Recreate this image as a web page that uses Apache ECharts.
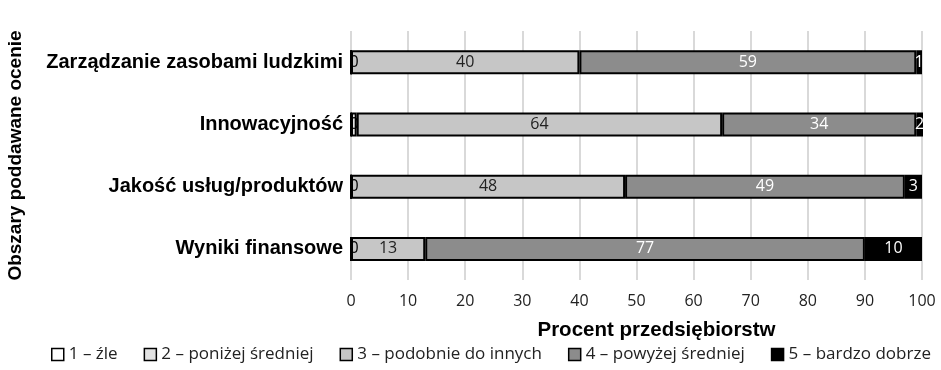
<!DOCTYPE html>
<html><head><meta charset="utf-8">
<script src="https://cdn.jsdelivr.net/npm/echarts@6/dist/echarts.min.js"></script>
<style>html,body{margin:0;padding:0;background:#fff}#c{width:941px;height:370px}</style>
</head><body><div id="c"></div>
<script>
const categories = ["Wyniki finansowe", "Jakość usług/produktów", "Innowacyjność", "Zarządzanie zasobami ludzkimi"];
const seriesNames = ["1 – źle", "2 – poniżej średniej", "3 – podobnie do innych", "4 – powyżej średniej", "5 – bardzo dobrze"];
const s1 = [0, 0, 0, 0];
const s2 = [0, 0, 1, 0];
const s3 = [13, 48, 64, 40];
const s4 = [77, 49, 34, 59];
const s5 = [10, 3, 2, 1];
const xTicks = [0, 10, 20, 30, 40, 50, 60, 70, 80, 90, 100];

const colors = ["#ffffff", "#e3e3e3", "#c6c6c6", "#8c8c8c", "#000000"];
const labelColors = ["#000", "#000", "#222", "#fff", "#fff"];
const showLabel = [true, false, true, true, true];
const labelOffsets = [[3, 0], [0, 0], [0, 0], [0, 0], [0, 0]];
const zs = [3, 2, 2, 2, 2];
const data = [s1, s2, s3, s4, s5];
const font = "'Open Sans', 'Noto Sans', sans-serif";
const boldFont = "'Liberation Sans', Arial, sans-serif";

const chart = echarts.init(document.getElementById('c'));
chart.setOption({
  animation: false,
  grid: { left: 351, right: 19, top: 31, bottom: 90, containLabel: false, outerBoundsMode: 'none' },
  xAxis: {
    type: 'value', min: 0, max: 100, interval: 10,
    axisLine: { show: false }, axisTick: { show: false },
    splitLine: { show: true, lineStyle: { color: '#d9d9d9', width: 2 } },
    axisLabel: { color: '#222', fontSize: 16, fontFamily: font, margin: 13,
      formatter: v => xTicks.includes(v) ? String(v) : '' },
    name: 'Procent przedsiębiorstw', nameLocation: 'middle', nameGap: 40,
    nameTextStyle: { fontWeight: 'bold', fontSize: 20.5, color: '#000', fontFamily: boldFont, padding: [0, 0, 0, 40] }
  },
  yAxis: {
    type: 'category', data: categories,
    axisLine: { show: false }, axisTick: { show: false },
    axisLabel: { fontWeight: 'bold', fontSize: 20, color: '#000', margin: 8, fontFamily: boldFont },
    name: 'Obszary poddawane ocenie', nameLocation: 'middle', nameGap: 326, nameRotate: 90,
    nameTextStyle: { fontWeight: 'bold', fontSize: 19, color: '#000', fontFamily: boldFont }
  },
  legend: {
    bottom: 2, left: 46, itemWidth: 12, itemHeight: 12, itemGap: 26,
    icon: 'rect',
    textStyle: { fontSize: 17, color: '#222', fontFamily: font },
    data: seriesNames.map(n => ({ name: n, itemStyle: { borderColor: '#000', borderWidth: 1.5 } }))
  },
  series: seriesNames.map((n, i) => ({
    name: n, type: 'bar', stack: 'total', barWidth: 24, z: zs[i],
    data: data[i],
    itemStyle: { color: colors[i], borderColor: '#000', borderWidth: 2 },
    label: {
      show: showLabel[i], position: 'inside', color: labelColors[i], fontSize: 16, fontFamily: font,
      offset: labelOffsets[i]
    }
  }))
});
</script></body></html>
